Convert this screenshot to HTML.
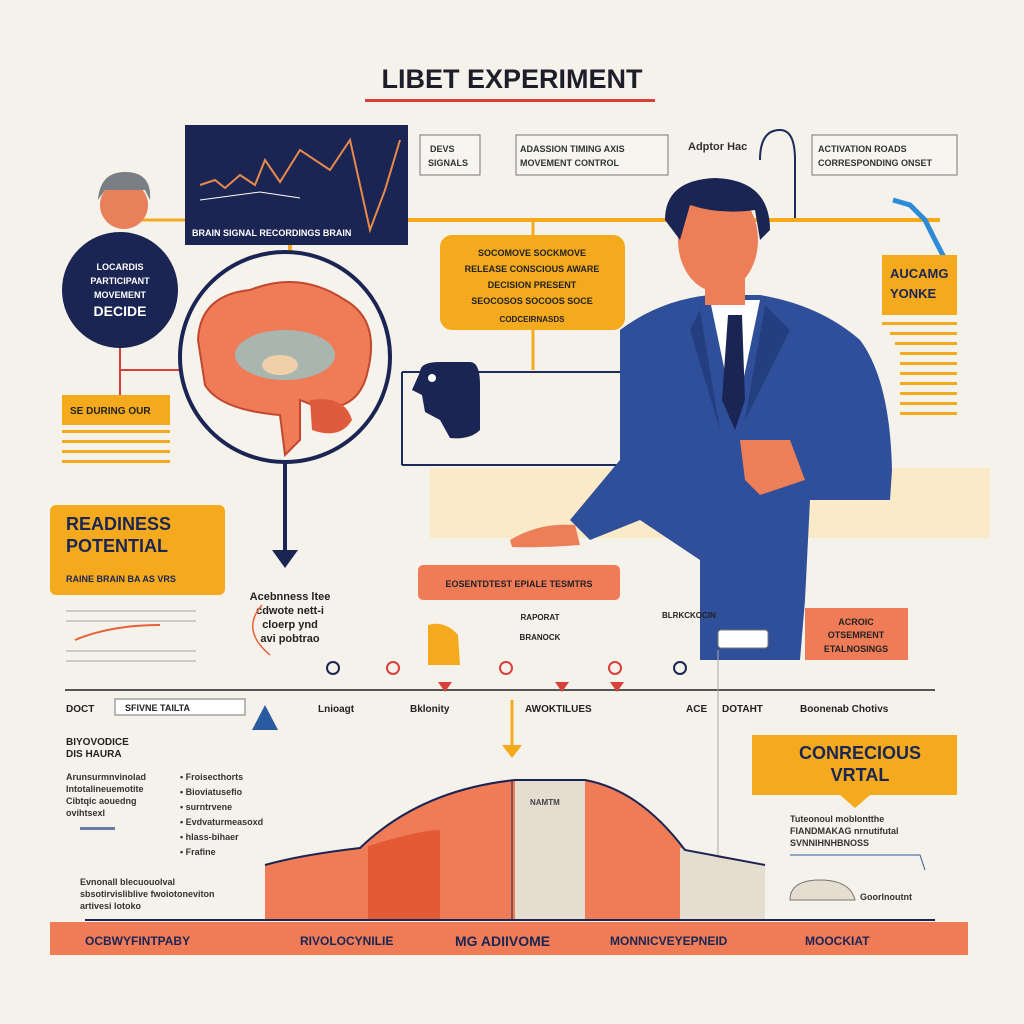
<!DOCTYPE html>
<html><head><meta charset="utf-8"><style>
html,body{margin:0;padding:0;background:#f5f2eb;}
svg{display:block}
text{font-family:"Liberation Sans",sans-serif;font-weight:bold;}
</style></head><body>
<svg width="1024" height="1024" viewBox="0 0 1024 1024" xmlns="http://www.w3.org/2000/svg">
<rect width="1024" height="1024" fill="#f5f2eb"/>
<!-- title -->
<text x="512" y="88" text-anchor="middle" font-size="27" fill="#1e1e2a">LIBET EXPERIMENT</text>
<rect x="365" y="99" width="290" height="3" fill="#d8413a"/>

<!-- connectors -->
<line x1="408" y1="220" x2="940" y2="220" stroke="#f4aa1c" stroke-width="4"/>
<line x1="290" y1="245" x2="290" y2="265" stroke="#f4aa1c" stroke-width="4"/>
<line x1="185" y1="220" x2="120" y2="220" stroke="#f4aa1c" stroke-width="3"/>
<line x1="120" y1="345" x2="120" y2="400" stroke="#d8413a" stroke-width="2"/>
<line x1="120" y1="370" x2="185" y2="370" stroke="#d8413a" stroke-width="2"/>
<line x1="533" y1="220" x2="533" y2="240" stroke="#f4aa1c" stroke-width="3"/>
<line x1="533" y1="330" x2="533" y2="370" stroke="#f4aa1c" stroke-width="3"/>
<line x1="402" y1="372" x2="640" y2="372" stroke="#1e2a5a" stroke-width="2"/>
<line x1="402" y1="372" x2="402" y2="465" stroke="#1e2a5a" stroke-width="2"/>
<line x1="402" y1="465" x2="640" y2="465" stroke="#1e2a5a" stroke-width="2"/>
<rect x="430" y="468" width="560" height="70" fill="#fde7b8" opacity="0.7"/>

<!-- navy chart box -->
<rect x="185" y="125" width="223" height="120" fill="#1b2553"/>
<path d="M200 185 L215 180 L225 188 L240 175 L255 185 L265 160 L280 182 L300 150 L330 170 L350 140 L370 230 L385 190 L400 140" fill="none" stroke="#e88a4a" stroke-width="2"/>
<path d="M200 200 L260 192 L300 198" stroke="#ffffff" stroke-width="1" fill="none"/>
<text x="192" y="236" font-size="9" fill="#ffffff">BRAIN SIGNAL RECORDINGS BRAIN</text>

<!-- small labels top -->
<rect x="420" y="135" width="60" height="40" fill="#f7f5ef" stroke="#777"/>
<text x="430" y="152" font-size="9" fill="#333">DEVS</text><text x="428" y="166" font-size="9" fill="#333">SIGNALS</text>
<rect x="516" y="135" width="152" height="40" fill="#f7f5ef" stroke="#777"/>
<text x="520" y="152" font-size="9" fill="#333">ADASSION TIMING AXIS</text><text x="520" y="166" font-size="9" fill="#333">MOVEMENT CONTROL</text>
<text x="688" y="150" font-size="11" fill="#333">Adptor Hac</text>
<rect x="812" y="135" width="145" height="40" fill="#f7f5ef" stroke="#777"/>
<text x="818" y="152" font-size="9" fill="#333">ACTIVATION ROADS</text><text x="818" y="166" font-size="9" fill="#333">CORRESPONDING ONSET</text>
<path d="M760 160 Q760 130 780 130 Q795 130 795 160 L795 218" fill="none" stroke="#1e2a5a" stroke-width="2"/>
<path d="M893 200 L910 205 L925 220 L935 240 L948 265" stroke="#2e8bd8" stroke-width="5" fill="none"/>

<!-- left head -->
<circle cx="124" cy="205" r="24" fill="#e8805a"/>
<path d="M98 200 Q100 172 125 172 Q152 172 150 200 L145 190 L105 190 Z" fill="#7a7f86"/>
<circle cx="120" cy="290" r="58" fill="#1b2553"/>
<text x="120" y="270" text-anchor="middle" font-size="9" fill="#fff">LOCARDIS</text>
<text x="120" y="284" text-anchor="middle" font-size="9" fill="#fff">PARTICIPANT</text>
<text x="120" y="298" text-anchor="middle" font-size="9" fill="#fff">MOVEMENT</text>
<text x="120" y="316" text-anchor="middle" font-size="14" fill="#fff">DECIDE</text>
<rect x="62" y="395" width="108" height="30" fill="#f4aa1c"/>
<text x="70" y="414" font-size="10" fill="#222">SE DURING OUR</text>
<rect x="62" y="430" width="108" height="3" fill="#f4aa1c"/><rect x="62" y="440" width="108" height="3" fill="#f4aa1c"/><rect x="62" y="450" width="108" height="3" fill="#f4aa1c"/><rect x="62" y="460" width="108" height="3" fill="#f4aa1c"/>

<!-- brain circle -->
<circle cx="285" cy="357" r="105" fill="#f6f3ec" stroke="#1b2553" stroke-width="4"/>
<path d="M198 340 Q200 295 250 290 Q300 270 345 300 Q380 320 368 370 Q360 410 320 408 L300 400 L300 440 L285 455 L280 415 Q220 410 205 385 Z" fill="#ef7b57" stroke="#c2472f" stroke-width="2"/>
<ellipse cx="285" cy="355" rx="50" ry="25" fill="#a9b6b0"/>
<ellipse cx="280" cy="365" rx="18" ry="10" fill="#f0d0a8"/>
<path d="M310 400 Q345 395 352 420 Q340 440 312 430 Z" fill="#e05a3d"/>
<line x1="285" y1="462" x2="285" y2="555" stroke="#1b2553" stroke-width="4"/>
<path d="M272 550 L298 550 L285 568 Z" fill="#1b2553"/>

<!-- yellow center cloud -->
<rect x="440" y="235" width="185" height="95" rx="12" fill="#f4aa1c"/>
<text x="532" y="256" text-anchor="middle" font-size="9" fill="#222">SOCOMOVE SOCKMOVE</text>
<text x="532" y="272" text-anchor="middle" font-size="9" fill="#222">RELEASE CONSCIOUS AWARE</text>
<text x="532" y="288" text-anchor="middle" font-size="9" fill="#222">DECISION PRESENT</text>
<text x="532" y="304" text-anchor="middle" font-size="9" fill="#222">SEOCOSOS SOCOOS SOCE</text>
<text x="532" y="322" text-anchor="middle" font-size="8" fill="#222">CODCEIRNASDS</text>

<!-- navy small head -->
<path d="M420 372 Q420 362 440 362 L470 362 Q480 362 480 385 L480 430 Q470 440 450 438 L440 420 L425 412 L422 395 L412 390 Z" fill="#1b2553"/>
<circle cx="432" cy="378" r="4" fill="#fff"/>

<!-- right label -->
<rect x="882" y="255" width="75" height="60" fill="#f4aa1c"/>
<text x="890" y="278" font-size="13" fill="#1b2553">AUCAMG</text>
<text x="890" y="298" font-size="13" fill="#1b2553">YONKE</text>
<g fill="#f4aa1c"><rect x="882" y="322" width="75" height="3"/><rect x="890" y="332" width="67" height="3"/><rect x="895" y="342" width="62" height="3"/><rect x="900" y="352" width="57" height="3"/><rect x="900" y="362" width="57" height="3"/><rect x="900" y="372" width="57" height="3"/><rect x="900" y="382" width="57" height="3"/><rect x="900" y="392" width="57" height="3"/><rect x="900" y="402" width="57" height="3"/><rect x="900" y="412" width="57" height="3"/></g>

<!-- man -->
<path d="M620 330 Q660 300 710 295 L760 295 Q820 305 860 340 Q890 380 892 470 L890 500 L810 500 L805 600 L800 660 L700 660 L700 560 L640 520 L590 540 L570 520 L620 460 Z" fill="#2f4f9a"/>
<path d="M710 300 L735 420 L760 300 Z" fill="#ffffff"/>
<path d="M728 315 L742 315 L745 400 L735 430 L722 400 Z" fill="#1b2553"/>
<path d="M700 310 L720 430 L690 330 Z" fill="#243f80"/>
<path d="M765 305 L745 420 L790 330 Z" fill="#243f80"/>
<rect x="705" y="265" width="40" height="40" fill="#ec7f58"/>
<ellipse cx="718" cy="240" rx="40" ry="52" fill="#ec7f58"/>
<path d="M665 220 Q665 180 715 178 Q770 180 770 230 L760 240 L755 210 Q720 215 690 205 L680 240 Z" fill="#1b2553"/>
<path d="M740 440 L790 440 L805 480 L760 495 L745 480 Z" fill="#ec7f58"/>
<path d="M510 540 Q540 522 575 525 L580 545 Q540 548 512 547 Z" fill="#ec7f58"/>

<!-- readiness -->
<rect x="50" y="505" width="175" height="90" rx="6" fill="#f4aa1c"/>
<text x="66" y="530" font-size="18" fill="#1b2553">READINESS</text>
<text x="66" y="552" font-size="18" fill="#1b2553">POTENTIAL</text>
<text x="66" y="582" font-size="9" fill="#1b2553">RAINE BRAIN BA AS VRS</text>
<path d="M75 640 Q110 625 160 625" stroke="#e8603a" stroke-width="2" fill="none"/>
<g fill="#ccc"><rect x="66" y="610" width="130" height="2"/><rect x="66" y="620" width="130" height="2"/><rect x="66" y="650" width="130" height="2"/><rect x="66" y="660" width="130" height="2"/></g>
<text x="290" y="600" text-anchor="middle" font-size="11" fill="#222">Acebnness ltee</text>
<text x="290" y="614" text-anchor="middle" font-size="11" fill="#222">cdwote nett-i</text>
<text x="290" y="628" text-anchor="middle" font-size="11" fill="#222">cloerp ynd</text>
<text x="290" y="642" text-anchor="middle" font-size="11" fill="#222">avi pobtrao</text>
<path d="M270 655 Q240 630 262 605" stroke="#e8603a" stroke-width="1.5" fill="none"/>

<!-- orange center label -->
<rect x="418" y="565" width="202" height="35" rx="5" fill="#ef7b57"/>
<text x="519" y="587" text-anchor="middle" font-size="9" fill="#222">EOSENTDTEST EPIALE TESMTRS</text>
<path d="M428 625 Q445 620 458 635 L460 665 L428 665 Z" fill="#f4aa1c"/>
<text x="540" y="620" text-anchor="middle" font-size="8" fill="#222">RAPORAT</text>
<text x="540" y="640" text-anchor="middle" font-size="8" fill="#222">BRANOCK</text>
<text x="662" y="618" font-size="8" fill="#222">BLRKCKOCIN</text>
<rect x="718" y="630" width="50" height="18" rx="3" fill="#fff" stroke="#777"/>
<rect x="805" y="608" width="103" height="52" fill="#ef7b57"/>
<text x="856" y="625" text-anchor="middle" font-size="9" fill="#222">ACROIC</text>
<text x="856" y="638" text-anchor="middle" font-size="9" fill="#222">OTSEMRENT</text>
<text x="856" y="652" text-anchor="middle" font-size="9" fill="#222">ETALNOSINGS</text>

<!-- timeline -->
<line x1="65" y1="690" x2="935" y2="690" stroke="#555" stroke-width="2"/>
<g fill="none" stroke-width="2">
<circle cx="333" cy="668" r="6" stroke="#1b2553"/><circle cx="393" cy="668" r="6" stroke="#d8413a"/><circle cx="506" cy="668" r="6" stroke="#d8413a"/><circle cx="615" cy="668" r="6" stroke="#d8413a"/><circle cx="680" cy="668" r="6" stroke="#1b2553"/></g>
<g fill="#d8413a"><path d="M438 682 L452 682 L445 692Z"/><path d="M555 682 L569 682 L562 692Z"/><path d="M610 682 L624 682 L617 692Z"/></g>
<line x1="718" y1="650" x2="718" y2="920" stroke="#aaa" stroke-width="1"/>
<text x="66" y="712" font-size="10" fill="#222">DOCT</text>
<rect x="115" y="699" width="130" height="16" fill="#fff" stroke="#777"/>
<text x="125" y="711" font-size="9" fill="#222">SFIVNE  TAILTA</text>
<path d="M252 730 L265 705 L278 730 Z" fill="#2a5aa0"/>
<text x="318" y="712" font-size="10" fill="#222">Lnioagt</text>
<text x="410" y="712" font-size="10" fill="#222">Bklonity</text>
<text x="525" y="712" font-size="10" fill="#222">AWOKTILUES</text>
<text x="686" y="712" font-size="10" fill="#222">ACE</text>
<text x="722" y="712" font-size="10" fill="#222">DOTAHT</text>
<text x="800" y="712" font-size="10" fill="#222">Boonenab Chotivs</text>
<line x1="512" y1="700" x2="512" y2="748" stroke="#f4aa1c" stroke-width="3"/>
<path d="M502 745 L522 745 L512 758Z" fill="#f4aa1c"/>

<!-- left lower text -->
<text x="66" y="745" font-size="10" fill="#222">BIYOVODICE</text>
<text x="66" y="757" font-size="10" fill="#222">DIS HAURA</text>
<g font-size="9" fill="#333">
<text x="66" y="780">Arunsurmnvinolad</text><text x="66" y="792">Intotalineuemotite</text><text x="66" y="804">Cibtqic aouedng</text><text x="66" y="816">ovihtsexl</text>
<text x="180" y="780">• Froisecthorts</text><text x="180" y="795">• Bioviatusefio</text><text x="180" y="810">• surntrvene</text><text x="180" y="825">• Evdvaturmeasoxd</text><text x="180" y="840">• hlass-bihaer</text><text x="180" y="855">• Frafine</text>
<text x="80" y="885">Evnonall blecuouolval</text><text x="80" y="897">sbsotirvisliblive fwoiotoneviton</text><text x="80" y="909">artivesi lotoko</text>
</g>
<rect x="80" y="827" width="35" height="3" fill="#6a7aa8"/>

<!-- bell chart -->
<path d="M265 920 L265 865 Q300 855 360 848 Q420 790 515 780 L585 780 Q640 790 685 850 L765 865 L765 920 Z" fill="#ef7b57"/>
<path d="M515 780 L585 780 L585 920 L515 920 Z" fill="#e4ddd0"/>
<path d="M368 846 Q420 830 440 830 L440 920 L368 920 Z" fill="#e35a35"/>
<path d="M680 848 L720 858 L765 865 L765 920 L680 920 Z" fill="#e4ddd0"/>
<path d="M265 865 Q300 855 360 848 Q420 790 515 780 L585 780 Q640 790 685 850 L765 865" fill="none" stroke="#1b2553" stroke-width="2"/>
<line x1="512" y1="780" x2="512" y2="920" stroke="#1b2553" stroke-width="1"/>
<text x="530" y="805" font-size="8" fill="#444">NAMTM</text>
<line x1="85" y1="920" x2="935" y2="920" stroke="#1b2553" stroke-width="2"/>

<!-- conscious -->
<rect x="752" y="735" width="205" height="60" fill="#f4aa1c"/>
<path d="M840 795 L870 795 L855 808Z" fill="#f4aa1c"/>
<text x="860" y="759" text-anchor="middle" font-size="18" fill="#1b2553">CONRECIOUS</text>
<text x="860" y="781" text-anchor="middle" font-size="18" fill="#1b2553">VRTAL</text>
<g font-size="9" fill="#333"><text x="790" y="822">Tuteonoul moblontthe</text><text x="790" y="834">FIANDMAKAG nrnutifutal</text><text x="790" y="846">SVNNIHNHBNOSS</text></g>
<path d="M790 855 L920 855 L925 870" stroke="#2a5aa0" fill="none"/>
<path d="M790 900 Q790 880 820 880 Q850 880 855 900 Z" fill="#e4ddd0" stroke="#777"/>
<text x="860" y="900" font-size="9" fill="#333">Goorlnoutnt</text>

<!-- bottom bar -->
<rect x="50" y="922" width="918" height="33" fill="#ef7b57"/>
<g font-size="12" fill="#1b2553"><text x="85" y="945">OCBWYFINTPABY</text><text x="300" y="945">RIVOLOCYNILIE</text><text x="455" y="946" font-size="14">MG ADIIVOME</text><text x="610" y="945">MONNICVEYEPNEID</text><text x="805" y="945">MOOCKIAT</text></g>
</svg>
</body></html>
